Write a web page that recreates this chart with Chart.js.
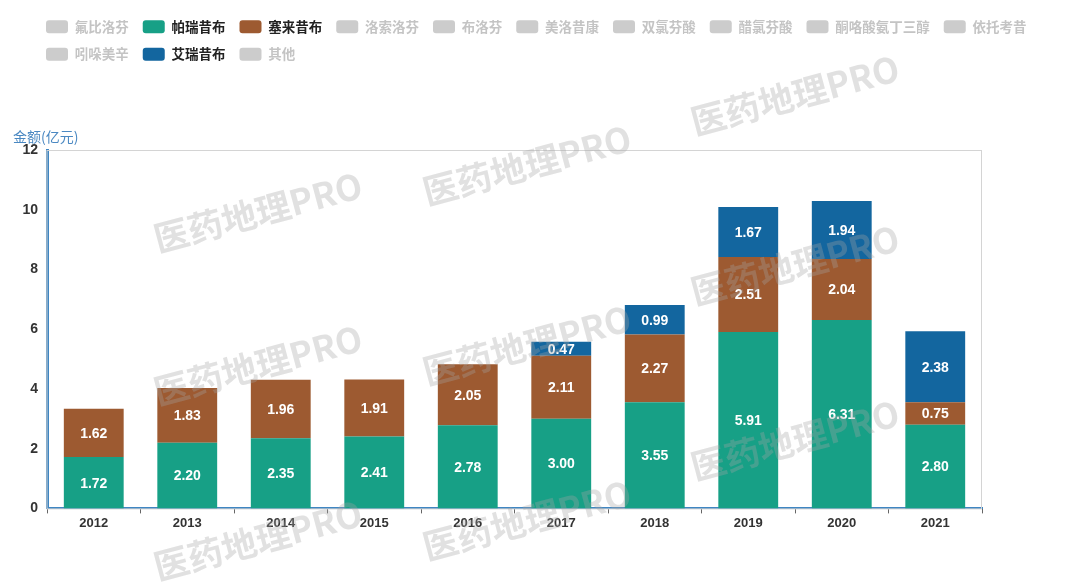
<!DOCTYPE html>
<html lang="zh">
<head>
    <meta charset="UTF-8">
    <title>销售金额</title>
    <script src="https://cdn.jsdelivr.net/npm/chart.js"></script>
    <style>
        body {
            margin: 0;
            padding: 0;
            background-color: #fff;
        }
        .chart-box {
            width: 1080px;
            height: 583px;
        }
    </style>
</head>
<body>
    <div class="chart-box">
        <canvas id="salesChart"></canvas>
    </div>

    <script>
        // data
        const years = ['2012', '2013', '2014', '2015', '2016', '2017', '2018', '2019', '2020', '2021'];
        const parecoxib = [1.72, 2.20, 2.35, 2.41, 2.78, 3.00, 3.55, 5.91, 6.31, 2.80];
        const celecoxib = [1.62, 1.83, 1.96, 1.91, 2.05, 2.11, 2.27, 2.51, 2.04, 0.75];
        const imrecoxib = [null, null, null, null, null, 0.47, 0.99, 1.67, 1.94, 2.38];
        const yTicks = [0, 2, 4, 6, 8, 10, 12];

        const legendNames = ['氟比洛芬', '帕瑞昔布', '塞来昔布', '洛索洛芬', '布洛芬', '美洛昔康', '双氯芬酸',
            '醋氯芬酸', '酮咯酸氨丁三醇', '依托考昔', '吲哚美辛', '艾瑞昔布', '其他'];

        const colors = {
            '帕瑞昔布': '#17a086',
            '塞来昔布': '#9d5a31',
            '艾瑞昔布': '#13669f'
        };
        const offColor = '#cccccc';
        const axisBlue = '#3f86c2';
        const fontFamily = "'Liberation Sans', 'Noto Sans CJK SC', sans-serif";

        // legend sits indented and the plot starts well below it
        const legendSpace = {
            id: 'legendSpace',
            beforeInit(chart) {
                const fit = chart.legend.fit;
                chart.legend.fit = function () {
                    fit.bind(chart.legend)();
                    this.height += 79;
                };
            },
            afterLayout(chart) {
                chart.legend.left += 32;
                chart.legend.right += 32;
            }
        };

        // grey frame, axis title, watermark and value labels
        const extras = {
            id: 'extras',
            beforeDatasetsDraw(chart) {
                const { ctx, chartArea } = chart;
                ctx.save();
                ctx.strokeStyle = '#d4d4d4';
                ctx.lineWidth = 1;
                ctx.strokeRect(chartArea.left, chartArea.top + 0.5, chartArea.right - chartArea.left - 0.5, chartArea.bottom - chartArea.top);
                ctx.fillStyle = '#4a88c2';
                ctx.font = "14px 'Noto Sans CJK SC', sans-serif";
                ctx.textAlign = 'left';
                ctx.textBaseline = 'bottom';
                ctx.fillText('金额(亿元)', chartArea.left - 34, chartArea.top - 6);
                ctx.restore();
            },
            afterDatasetsDraw(chart) {
                const { ctx } = chart;
                ctx.save();
                ctx.fillStyle = '#fff';
                ctx.font = "bold 14px " + fontFamily;
                ctx.textAlign = 'center';
                ctx.textBaseline = 'middle';
                chart.data.datasets.forEach((ds, i) => {
                    chart.getDatasetMeta(i).data.forEach((bar, j) => {
                        const v = ds.data[j];
                        if (v == null) return;
                        ctx.fillText(v.toFixed(2), bar.x, (bar.y + bar.base) / 2 + 1);
                    });
                });

                // watermark
                ctx.fillStyle = 'rgba(165,165,165,0.33)';
                ctx.font = "bold 35px 'Noto Sans CJK SC', sans-serif";
                const marks = [[258, 212], [527, 165], [795, 95], [258, 365], [527, 345], [795, 265], [258, 540], [527, 520], [795, 440]];
                marks.forEach(([x, y]) => {
                    ctx.save();
                    ctx.translate(x, y);
                    ctx.rotate(-15 * Math.PI / 180);
                    ctx.fillText('医药地理PRO', 0, 0);
                    ctx.restore();
                });
                ctx.restore();
            }
        };

        const makeSet = (name, values) => ({
            label: name,
            data: values,
            backgroundColor: colors[name],
            borderWidth: 0,
            categoryPercentage: 1,
            barPercentage: 0.64
        });

        const salesChart = new Chart(document.getElementById('salesChart'), {
            type: 'bar',
            data: {
                labels: years,
                datasets: [
                    makeSet('帕瑞昔布', parecoxib),
                    makeSet('塞来昔布', celecoxib),
                    makeSet('艾瑞昔布', imrecoxib)
                ]
            },
            options: {
                responsive: true,
                maintainAspectRatio: false,
                animation: false,
                layout: {
                    padding: { top: 6, left: 0, right: 0, bottom: 50 }
                },
                plugins: {
                    tooltip: { enabled: false },
                    legend: {
                        position: 'top',
                        align: 'start',
                        labels: {
                            boxWidth: 22,
                            boxHeight: 13,
                            padding: 14,
                            useBorderRadius: true,
                            borderRadius: 3,
                            font: { family: "'Noto Sans CJK SC', sans-serif", size: 13.5, weight: 'bold' },
                            generateLabels() {
                                return legendNames.map(name => ({
                                    text: name,
                                    fillStyle: colors[name] || offColor,
                                    strokeStyle: colors[name] || offColor,
                                    lineWidth: 0,
                                    borderRadius: 3,
                                    fontColor: colors[name] ? '#222' : '#c4c4c4',
                                    hidden: false
                                }));
                            }
                        },
                        onClick() {}
                    }
                },
                scales: {
                    x: {
                        stacked: true,
                        grid: {
                            offset: true,
                            drawOnChartArea: false,
                            drawTicks: true,
                            tickLength: 5,
                            color: '#666'
                        },
                        border: { color: axisBlue, width: 2 },
                        ticks: {
                            color: '#333',
                            padding: 2,
                            font: { family: fontFamily, size: 13, weight: 'bold' }
                        }
                    },
                    y: {
                        stacked: true,
                        min: 0,
                        max: 12,
                        afterFit(scale) { scale.width = 47; },
                        afterBuildTicks(scale) { scale.ticks = yTicks.map(v => ({ value: v })); },
                        grid: { display: false, drawTicks: false },
                        border: { color: axisBlue, width: 3 },
                        ticks: {
                            color: '#333',
                            padding: 9,
                            font: { family: fontFamily, size: 14, weight: 'bold' }
                        }
                    },
                    y2: {
                        position: 'right',
                        min: 0,
                        max: 12,
                        afterFit(scale) { scale.width = 98; },
                        grid: { display: false, drawTicks: false },
                        border: { display: false },
                        ticks: { display: false }
                    }
                }
            },
            plugins: [legendSpace, extras]
        });
    </script>
</body>
</html>
